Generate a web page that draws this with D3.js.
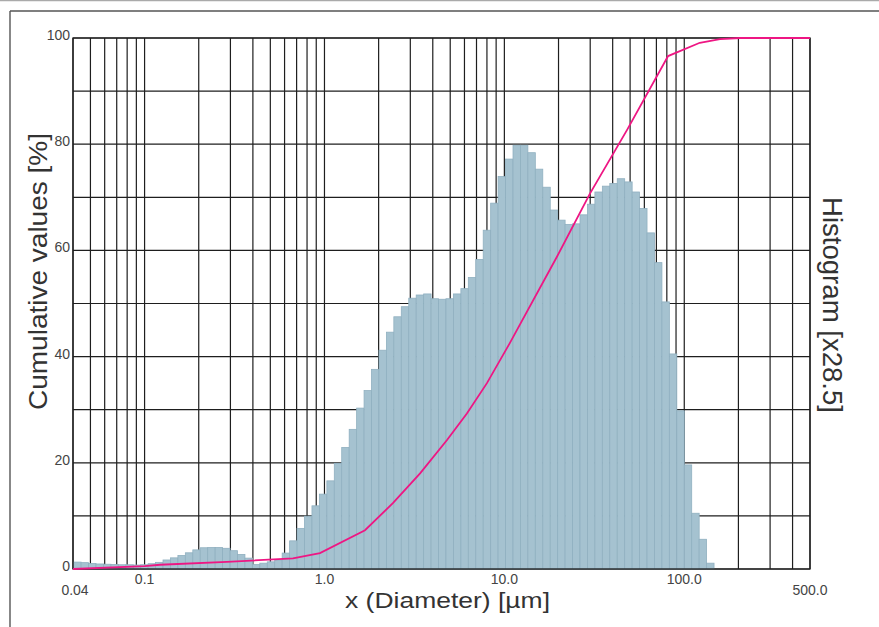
<!DOCTYPE html>
<html>
<head>
<meta charset="utf-8">
<script src="https://cdn.jsdelivr.net/npm/d3@7/dist/d3.min.js"></script>
<style>
  html, body { margin: 0; padding: 0; background: #fff; }
  svg { display: block; }
  text { font-family: "Liberation Sans", Arial, Helvetica, sans-serif; }
</style>
</head>
<body>
<svg id="chart" width="879" height="627"></svg>
<script>
// ---- data ----
// histogram bin edges (µm), geometric classes
const binEdges = [0.04035, 0.04438, 0.04882, 0.05370, 0.05907, 0.06498, 0.07148, 0.07862, 0.08649, 0.09513,
  0.1046, 0.1151, 0.1266, 0.1393, 0.1532, 0.1685, 0.1854, 0.2039, 0.2243, 0.2468, 0.2714, 0.2986,
  0.3284, 0.3613, 0.3974, 0.4371, 0.4809, 0.5289, 0.5818, 0.6400, 0.7040, 0.7744, 0.8519, 0.9370,
  1.031, 1.134, 1.247, 1.372, 1.509, 1.660, 1.826, 2.009, 2.209, 2.430, 2.673, 2.941, 3.235, 3.558,
  3.914, 4.306, 4.736, 5.210, 5.731, 6.304, 6.934, 7.628, 8.391, 9.230,
  10.15, 11.17, 12.28, 13.51, 14.86, 16.35, 17.99, 19.78, 21.76, 23.94, 26.33, 28.97, 31.86, 35.05,
  38.55, 42.41, 46.65, 51.32, 56.45, 62.09, 68.30, 75.13, 82.64, 90.91, 100, 110, 121, 133.1, 146.4];

// histogram heights (scaled x28.5, read on the % axis)
const histValues = [1.3, 1.2, 1.05, 0.95, 0.9, 0.85, 0.8, 0.8, 0.75, 0.8,
  1.0, 1.25, 1.7, 2.1, 2.55, 3.05, 3.6, 4.0, 4.05, 4.05,
  3.9, 3.45, 2.75, 2.05, 0.85, 1.1, 1.35, 1.7, 3.0, 5.3,
  7.65, 9.95, 11.9, 14.1, 16.6, 19.9, 22.9, 26.3, 30.3, 33.6,
  37.6, 41.2, 44.6, 47.5, 49.4, 51.0, 51.6, 51.8, 50.9, 50.8,
  50.9, 51.8, 52.8, 54.9, 58.3, 63.8, 68.9, 73.9, 77.2, 79.8,
  79.8, 78.4, 75.3, 71.9, 67.6, 65.7, 64.9, 65.0, 66.7, 68.7,
  71.0, 72.1, 72.6, 73.5, 72.9, 71.0, 67.9, 63.3, 57.7, 50.3,
  40.5, 29.8, 19.6, 10.5, 5.6, 1.1];

// cumulative curve
const cumSizes  = [0.04, 0.1, 0.122, 0.287, 0.668, 0.944, 1.68, 2.40, 3.40, 4.80, 6.19, 8.0, 10.7, 19.6, 29.9, 48.1, 81.3, 122, 158, 204, 500];
const cumValues = [0, 0.55, 0.8, 1.35, 2.0, 3.0, 7.3, 12.4, 18.0, 24.3, 29.3, 35.0, 42.5, 58.8, 70.7, 82.7, 96.6, 99.1, 99.8, 100, 100];

const yTickValues = [0, 20, 40, 60, 80, 100];
const xTickValues = [0.04, 0.1, 1, 10, 100, 500];
const xTickLabels = ["0.04", "0.1", "1.0", "10.0", "100.0", "500.0"];

// ---- drawing ----
const svg = d3.select("#chart");
const L = 73, R = 810, T = 38, B = 569;

const x = d3.scaleLog().domain([0.04, 500]).range([L, R]);
const y = d3.scaleLinear().domain([0, 100]).range([B, T]);

// frame
svg.append("line").attr("x1", 0).attr("x2", 879).attr("y1", 0.5).attr("y2", 0.5)
  .attr("stroke", "#aaa").attr("stroke-width", 1.5);
svg.append("line").attr("x1", 10).attr("x2", 879).attr("y1", 11).attr("y2", 11)
  .attr("stroke", "#555").attr("stroke-width", 1.4);
svg.append("line").attr("x1", 10).attr("x2", 10).attr("y1", 11).attr("y2", 627)
  .attr("stroke", "#555").attr("stroke-width", 1.4);

// grid
const grid = svg.append("g").attr("stroke", "#1e1e1e").attr("stroke-width", 1.2);
grid.selectAll("line.v").data(x.ticks()).join("line").attr("class", "v")
  .attr("x1", d => x(d)).attr("x2", d => x(d)).attr("y1", T).attr("y2", B);
grid.selectAll("line.h").data(y.ticks(10)).join("line").attr("class", "h")
  .attr("x1", L).attr("x2", R).attr("y1", d => y(d)).attr("y2", d => y(d));

// histogram bars
const bars = histValues.map((v, i) => ({ x0: binEdges[i], x1: binEdges[i + 1], v }));
svg.append("g").selectAll("rect").data(bars).join("rect")
  .attr("x", d => x(d.x0))
  .attr("width", d => x(d.x1) - x(d.x0))
  .attr("y", d => y(d.v))
  .attr("height", d => y(0) - y(d.v))
  .attr("fill", "#a5c2d0")
  .attr("stroke", "#90b0c0")
  .attr("stroke-width", 0.8);

// plot border
svg.append("rect").attr("x", L).attr("y", T).attr("width", R - L).attr("height", B - T)
  .attr("fill", "none").attr("stroke", "#1e1e1e").attr("stroke-width", 1.3);

// cumulative curve
const line = d3.line().x(d => x(d[0])).y(d => y(d[1]));
svg.append("path").datum(cumSizes.map((s, i) => [s, cumValues[i]]))
  .attr("d", line).attr("fill", "none").attr("stroke", "#ee1683").attr("stroke-width", 1.8);

// y tick labels
svg.append("g").selectAll("text").data(yTickValues).join("text")
  .attr("x", 70).attr("y", d => y(d) + 2)
  .attr("text-anchor", "end").attr("font-size", 14).attr("fill", "#444")
  .text(d => d);

// x tick labels
svg.append("g").selectAll("text").data(xTickValues).join("text")
  .attr("x", d => x(d) + (d === 0.04 ? 2 : 0))
  .attr("y", (d, i) => (i === 0 || i === xTickValues.length - 1) ? 595 : 584)
  .attr("text-anchor", "middle").attr("font-size", 14).attr("fill", "#444")
  .text((d, i) => xTickLabels[i]);

// axis titles
svg.append("text").attr("x", 447.5).attr("y", 607.5).attr("text-anchor", "middle")
  .attr("font-size", 22).attr("fill", "#333")
  .attr("textLength", 205).attr("lengthAdjust", "spacingAndGlyphs")
  .text("x (Diameter) [µm]");

svg.append("text").attr("transform", "translate(47,271.5) rotate(-90)")
  .attr("text-anchor", "middle").attr("font-size", 25).attr("fill", "#333")
  .attr("textLength", 277).attr("lengthAdjust", "spacingAndGlyphs")
  .text("Cumulative values [%]");

svg.append("text").attr("transform", "translate(823,305) rotate(90)")
  .attr("text-anchor", "middle").attr("font-size", 27).attr("fill", "#333")
  .attr("textLength", 216).attr("lengthAdjust", "spacingAndGlyphs")
  .text("Histogram [x28.5]");
</script>
</body>
</html>
